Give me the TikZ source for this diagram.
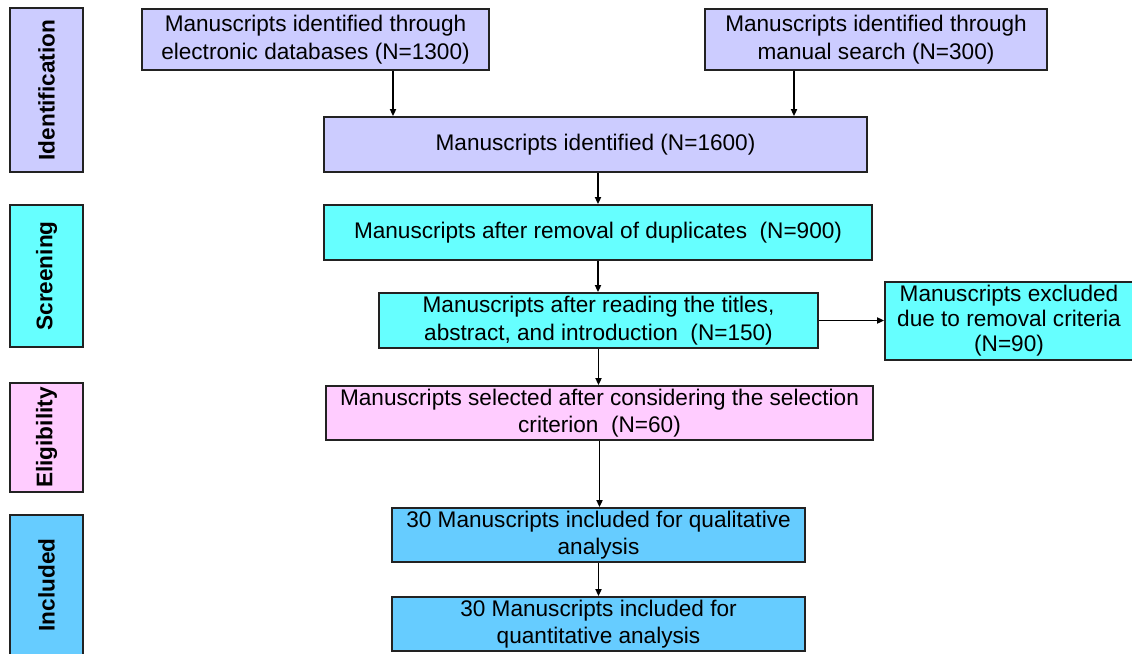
\documentclass[tikz,border=0pt]{standalone}
\usepackage{fontspec}
\setmainfont{Liberation Sans}
\usetikzlibrary{arrows.meta}
\definecolor{idfill}{HTML}{CCCCFF}
\definecolor{scfill}{HTML}{66FFFF}
\definecolor{elfill}{HTML}{FFCCFF}
\definecolor{infill}{HTML}{66CCFF}
\definecolor{edge}{HTML}{222222}
\begin{document}
\begin{tikzpicture}[x=1pt,y=-1pt,
  box/.style={draw=edge, line width=1.8pt, align=center, inner sep=0pt,
    font=\fontsize{22.6}{27.5}\selectfont},
  stage/.style={draw=edge, line width=1.8pt, inner sep=0pt, rotate=90,
    font=\bfseries\fontsize{22.6}{26}\selectfont},
  flow/.style={-{Triangle[length=7pt,width=6pt]}, line width=1.8pt, draw=black}]
\useasboundingbox (0,0) rectangle (1132,653);

% stage labels on the left
\node[stage, fill=idfill, minimum width=164, minimum height=73] (sid) at (46.5,90) {Identification};
\node[stage, fill=scfill, minimum width=142, minimum height=73] (ssc) at (46.5,276) {Screening};
\node[stage, fill=elfill, minimum width=109, minimum height=73] (sel) at (46.5,437.5) {Eligibility};
\node[stage, fill=infill, minimum width=140, minimum height=73] (sin) at (46.5,585) {Included};

% flow boxes
\node[box, fill=idfill, minimum width=347, minimum height=61] (db) at (315.5,39.5)
  {Manuscripts identified through\\electronic databases (N=1300)};
\node[box, fill=idfill, minimum width=342, minimum height=61] (man) at (876,39.5)
  {Manuscripts identified through\\manual search (N=300)};
\node[box, fill=idfill, minimum width=543, minimum height=55] (ident) at (595.5,144.5)
  {Manuscripts identified (N=1600)};
\node[box, fill=scfill, minimum width=548, minimum height=55] (dup) at (598,232.5)
  {Manuscripts after removal of duplicates\ \ (N=900)};
\node[box, fill=scfill, minimum width=439, minimum height=55] (read) at (598.5,320.5)
  {Manuscripts after reading the titles,\\abstract, and introduction\ \ (N=150)};
\node[box, fill=scfill, minimum width=248, minimum height=78, font=\fontsize{22.6}{25}\selectfont] (excl) at (1009,321)
  {Manuscripts excluded\\due to removal criteria\\(N=90)};
\node[box, fill=elfill, minimum width=547, minimum height=54] (selc) at (599.5,413)
  {Manuscripts selected after considering the selection\\criterion\ \ (N=60)};
\node[box, fill=infill, minimum width=413, minimum height=54] (qual) at (598.5,535)
  {30 Manuscripts included for qualitative\\analysis};
\node[box, fill=infill, minimum width=413, minimum height=54] (quant) at (598.5,624)
  {30 Manuscripts included for\\quantitative analysis};

% connectors
\coordinate (c1) at (393,0);
\coordinate (c2) at (794,0);
\draw[flow] (c1 |- db.south) -- (c1 |- ident.north);
\draw[flow] (c2 |- man.south) -- (c2 |- ident.north);
\draw[flow] (ident.south -| dup.north) -- (dup.north);
\draw[flow] (dup.south) -- (dup.south |- read.north);
\draw[flow] (read.east) -- (read.east -| excl.west);
\draw[flow] (read.south) -- (read.south |- selc.north);
\draw[flow] (selc.south) -- (selc.south |- qual.north);
\draw[flow] (qual.south) -- (quant.north);
\end{tikzpicture}
\end{document}
